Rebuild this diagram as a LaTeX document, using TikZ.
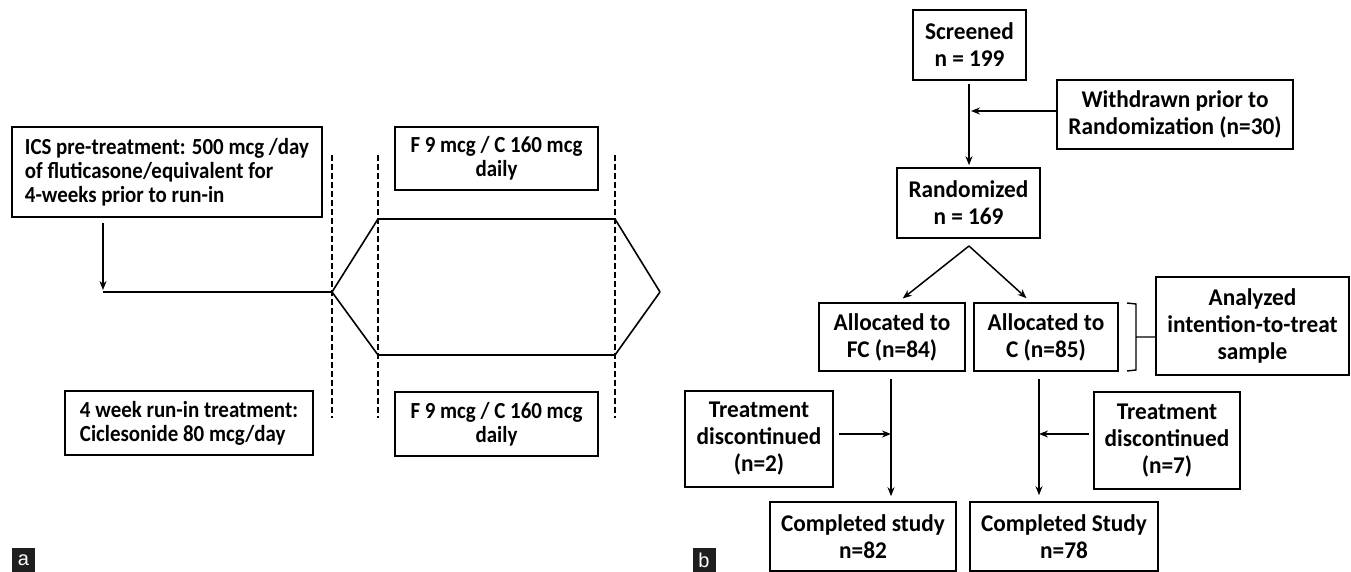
\documentclass[tikz,border=0pt]{standalone}
\usepackage{fontspec}
\newfontfamily\calfont{Carlito}[FakeStretch=0.91]
\newfontfamily\flowfont{Carlito}[FakeStretch=0.97]
\newfontfamily\labfont{Liberation Sans}
\usetikzlibrary{arrows.meta, positioning}
\tikzset{
    box/.style={draw, line width=1.6pt, inner sep=0pt, align=center,
        font=\calfont\bfseries\fontsize{23}{24}\selectfont},
    fbox/.style={box, font=\flowfont\bfseries\fontsize{24}{27}\selectfont},
    arr/.style={-{Stealth[length=9pt,width=7pt]}, line width=1.5pt},
    period/.style={line width=1.3pt, dash pattern=on 6pt off 3pt},
    course/.style={line width=1.6pt, line join=round},
    panellab/.style={fill=black!88, text=white, inner sep=0pt,
        minimum width=23pt, minimum height=24pt,
        font=\labfont\fontsize{20}{20}\selectfont},
}
\begin{document}
\begin{tikzpicture}[x=1pt,y=-1pt]
\useasboundingbox (0,0) rectangle (1351,572);
% === LEFT PANEL: study design ===
\begin{scope}
    \node[box, align=left, minimum width=310, minimum height=90] (ics) at (167,172)
        {ICS pre-treatment: 500 mcg /day\\of fluticasone/equivalent for\\4-weeks prior to run-in};
    \node[box, minimum width=203, minimum height=63] (ftop) at (496.5,158.5)
        {F 9 mcg / C 160 mcg\\daily};
    \node[box, align=left, minimum width=248, minimum height=64] (runin) at (189,423)
        {4 week run-in treatment:\\Ciclesonide 80 mcg/day};
    \node[box, minimum width=203, minimum height=64] (fbot) at (496.5,424)
        {F 9 mcg / C 160 mcg\\daily};
    % period boundaries
    \foreach \xd in {332,378,615}
        \draw[period] (\xd,155) -- (\xd,418);
    % treatment course
    \coordinate (start) at (103,292);
    \coordinate (split) at (332,292);
    \coordinate (up1) at (378,219);
    \coordinate (up2) at (615,219);
    \coordinate (lo1) at (378,355);
    \coordinate (lo2) at (615,355);
    \coordinate (join) at (660,292);
    \draw[arr, shorten <=5pt, shorten >=2pt] (ics.south -| start) -- (start);
    \draw[course] (start) -- (split) -- (up1) -- (up2) -- (join);
    \draw[course] (split) -- (lo1) -- (lo2) -- (join);
    \node[panellab] (laba) at (23.5,560) {a};
\end{scope}
% === RIGHT PANEL: patient flow ===
\begin{scope}
    \node[fbox, minimum width=113, minimum height=70] (screened) at (969.5,45)
        {Screened\\n = 199};
    \node[fbox, minimum width=236, minimum height=69] (withdrawn) at (1175,114.5)
        {Withdrawn prior to\\Randomization (n=30)};
    \node[fbox, minimum width=143, minimum height=70] (random) at (968.5,203)
        {Randomized\\n = 169};
    \node[fbox, minimum width=146, minimum height=68] (allocfc) at (892,337)
        {Allocated to\\FC (n=84)};
    \node[fbox, minimum width=144, minimum height=68] (allocc) at (1046,337)
        {Allocated to\\C (n=85)};
    \node[fbox, minimum width=193, minimum height=98] (itt) at (1252.5,326)
        {Analyzed\\intention-to-treat\\sample};
    \node[fbox, minimum width=148, minimum height=96] (discfc) at (759,439)
        {Treatment\\discontinued\\(n=2)};
    \node[fbox, minimum width=146, minimum height=97] (discc) at (1167,440.5)
        {Treatment\\discontinued\\(n=7)};
    \node[fbox, minimum width=186, minimum height=69] (donefc) at (863,536.5)
        {Completed study\\n=82};
    \node[fbox, minimum width=188, minimum height=69] (donec) at (1064,536.5)
        {Completed Study\\n=78};
    % flow
    \coordinate (mainx) at (969,0);
    \coordinate (apex) at (969,246);
    \coordinate (fcx) at (891,0);
    \coordinate (cx) at (1039,0);
    \draw[arr, shorten <=3pt, shorten >=2pt] (screened.south -| mainx) -- (random.north -| mainx);
    \draw[arr, shorten >=2pt] (withdrawn.west |- 0,111) -- (mainx |- 0,111);
    \draw[arr, shorten >=6pt] (apex) -- (allocfc.north -| 898,0);
    \draw[arr, shorten >=6pt] (apex) -- (allocc.north -| 1031,0);
    \draw[arr, shorten <=7pt, shorten >=5pt] (allocfc.south -| fcx) -- (donefc.north -| fcx);
    \draw[arr, shorten <=7pt, shorten >=6pt] (allocc.south -| cx) -- (donec.north -| cx);
    \draw[arr, shorten <=5pt] (discfc.east |- 0,434) -- (fcx |- 0,434);
    \draw[arr, shorten <=4pt] (discc.west |- 0,434) -- (cx |- 0,434);
    % bracket round the allocated groups
    \draw[line width=1.4pt] (1127,303) -- (1136,304) -- (1136,370) -- (1127,371)
        (1136,337) -- (itt.west |- 0,337);
    \node[panellab] (labb) at (704,560) {b};
\end{scope}
\end{tikzpicture}
\end{document}
